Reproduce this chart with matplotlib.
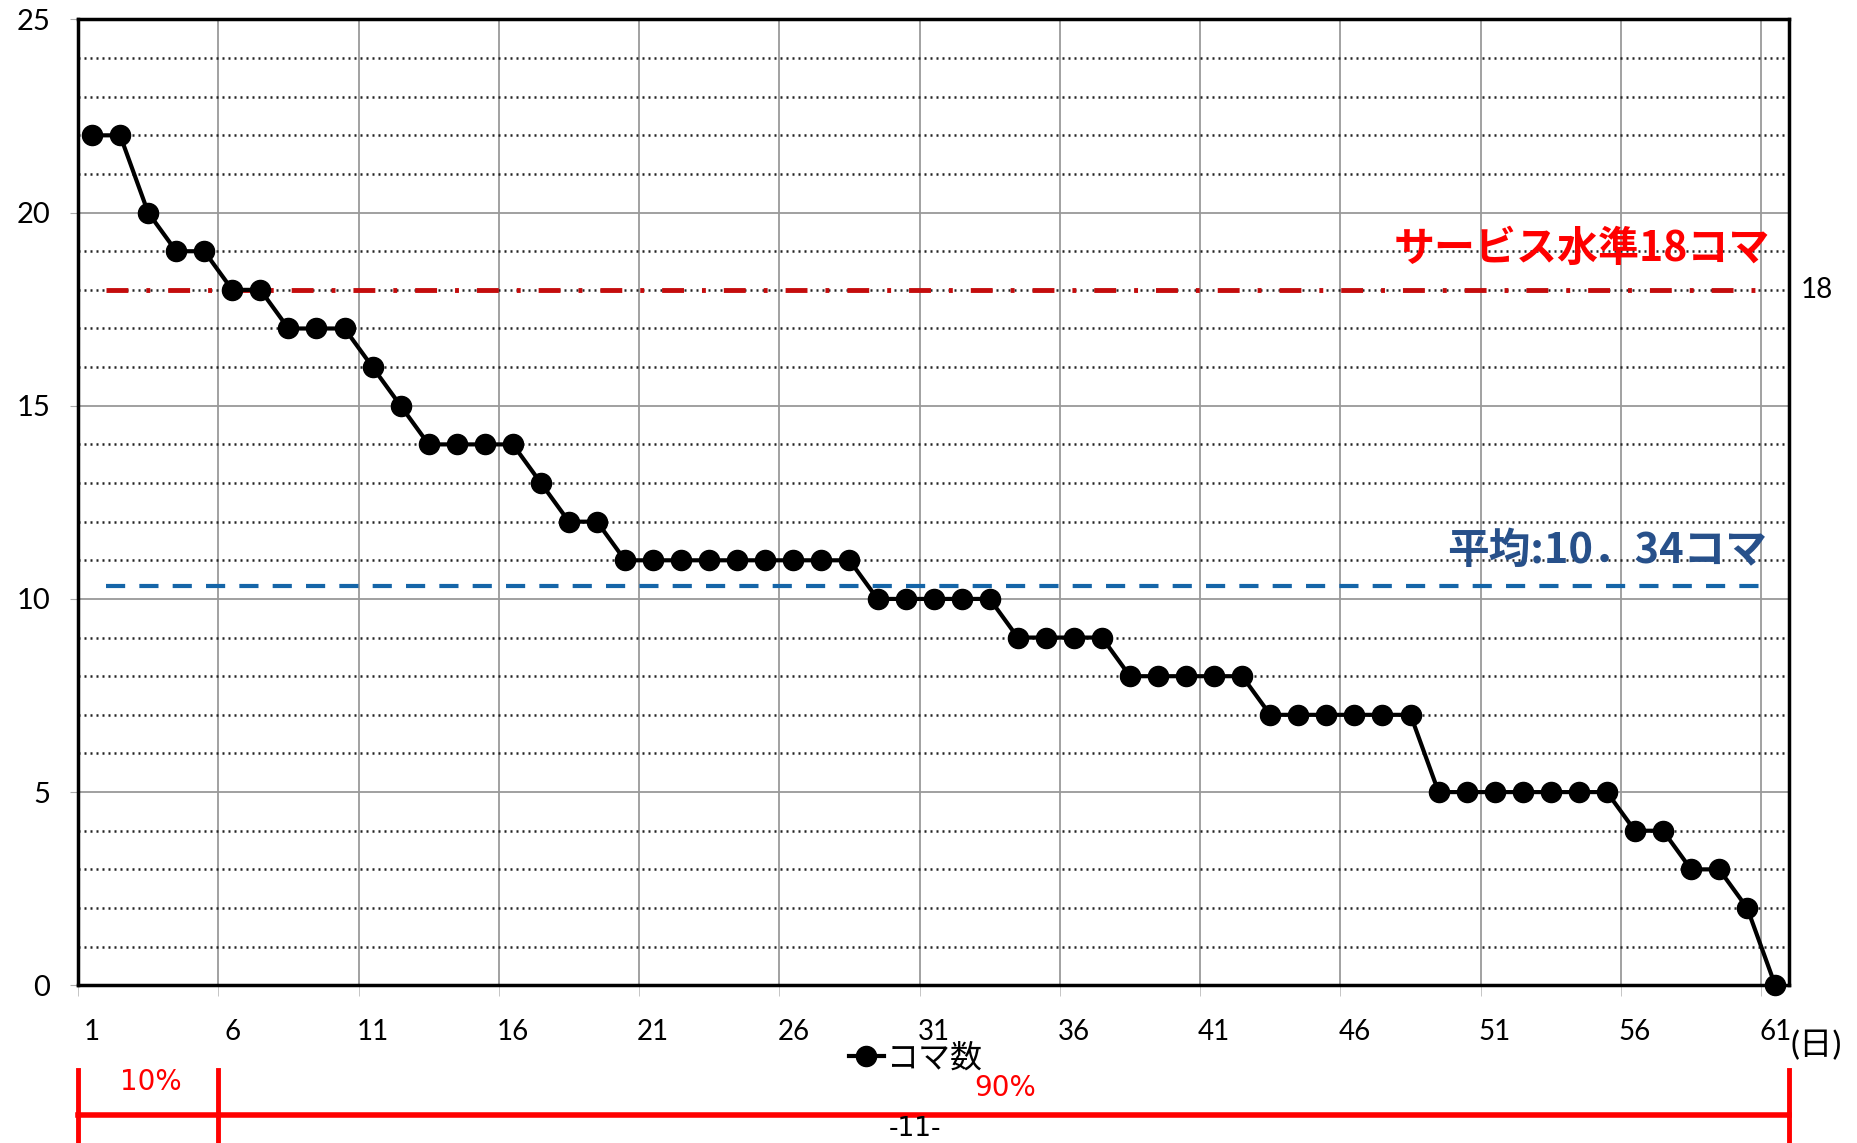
import matplotlib.pyplot as plt
from matplotlib.transforms import blended_transform_factory

plt.rcParams['font.family'] = ['Lato', 'Noto Sans CJK JP', 'DejaVu Sans']

days = list(range(1, 62))
counts = [22, 22, 20, 19, 19, 18, 18, 17, 17, 17,
          16, 15, 14, 14, 14, 14, 13, 12, 12, 11,
          11, 11, 11, 11, 11, 11, 11, 11, 10, 10,
          10, 10, 10, 9, 9, 9, 9, 8, 8, 8,
          8, 8, 7, 7, 7, 7, 7, 7, 5, 5,
          5, 5, 5, 5, 5, 4, 4, 3, 3, 2,
          0]
service_level = 18
average = 10.34
x_ticks = list(range(1, 62, 5))
y_ticks = [0, 5, 10, 15, 20, 25]

fig = plt.figure(figsize=(18.58, 11.43), dpi=100)
ax = fig.add_axes([0.042, 0.138, 0.921, 0.845])

# grid
ax.set_xlim(0.5, 61.5)
ax.set_ylim(0, 25)
ax.set_xticks(x_ticks)
ax.set_xticks([0.5 + 5 * k for k in range(13)], minor=True)
ax.set_yticks(y_ticks)
ax.set_yticks(range(0, 26), minor=True)
ax.grid(which='minor', axis='x', color='#888888', lw=1.1)
ax.grid(which='major', axis='y', color='#999999', lw=1.3)
ax.grid(which='minor', axis='y', color='#222222', lw=1.8, linestyle=(0, (0.8, 1.6)))
ax.set_axisbelow(True)

# reference lines
ax.hlines(service_level, 1.5, 60.5, color='#c40c0c', lw=3.5,
          linestyle=(0, (4.5, 3.7, 0.8, 3.7)), zorder=3)
ax.hlines(average, 1.5, 60.5, color='#1565a8', lw=3, linestyle=(0, (4.6, 3.4)), zorder=3)

ax.plot(days, counts, color='black', lw=3, marker='o', markersize=14.5, label='コマ数',
        zorder=4, clip_on=False)

ax.text(60.8, 19.05, 'サービス水準18コマ', color='#ff0000', fontsize=29.5, fontweight='bold',
        ha='right', va='center', family=['Noto Sans CJK JP'])
ax.text(60.7, 11.25, '平均:10．34コマ', color='#27508a', fontsize=30, fontweight='bold',
        ha='right', va='center', family=['Noto Sans CJK JP'])
ax.text(62.5, service_level, '18', fontsize=20, ha='center', va='center')

for s in ax.spines.values():
    s.set_linewidth(2.5)
ax.tick_params(axis='y', which='major', labelsize=21, pad=14, length=6, color='#aaaaaa')
ax.tick_params(axis='y', which='minor', length=0)
ax.tick_params(axis='x', which='major', labelsize=20, pad=24, length=0)
ax.tick_params(axis='x', which='minor', length=8, color='#bbbbbb')

ax.annotate('(日)', xy=(61.5, 0), xycoords='data', xytext=(1, -44),
            textcoords='offset points', fontsize=24, ha='left', va='center',
            annotation_clip=False)

fig.legend(loc='center', bbox_to_anchor=(0.493, 0.074), frameon=False,
           fontsize=23, handlelength=1.1, handletextpad=0.1)

# bracket below the chart
tr = blended_transform_factory(ax.transData, fig.transFigure)
red = '#ff0000'
ax.plot([0.5, 61.5], [0.0245, 0.0245], color=red, lw=4, transform=tr, clip_on=False)
for xb in [0.5, 5.5, 61.5]:
    ax.plot([xb, xb], [0, 0.064], color=red, lw=3.5, transform=tr, clip_on=False)
fig.text(0.081, 0.053, '10%', color=red, fontsize=20, ha='center', va='center',
         family='DejaVu Sans')
fig.text(0.541, 0.048, '90%', color=red, fontsize=20, ha='center', va='center',
         family='DejaVu Sans')
fig.text(0.4925, 0.012, '-11-', fontsize=19, ha='center', va='center',
         family='DejaVu Sans')

fig.savefig('out.png', dpi=100)
